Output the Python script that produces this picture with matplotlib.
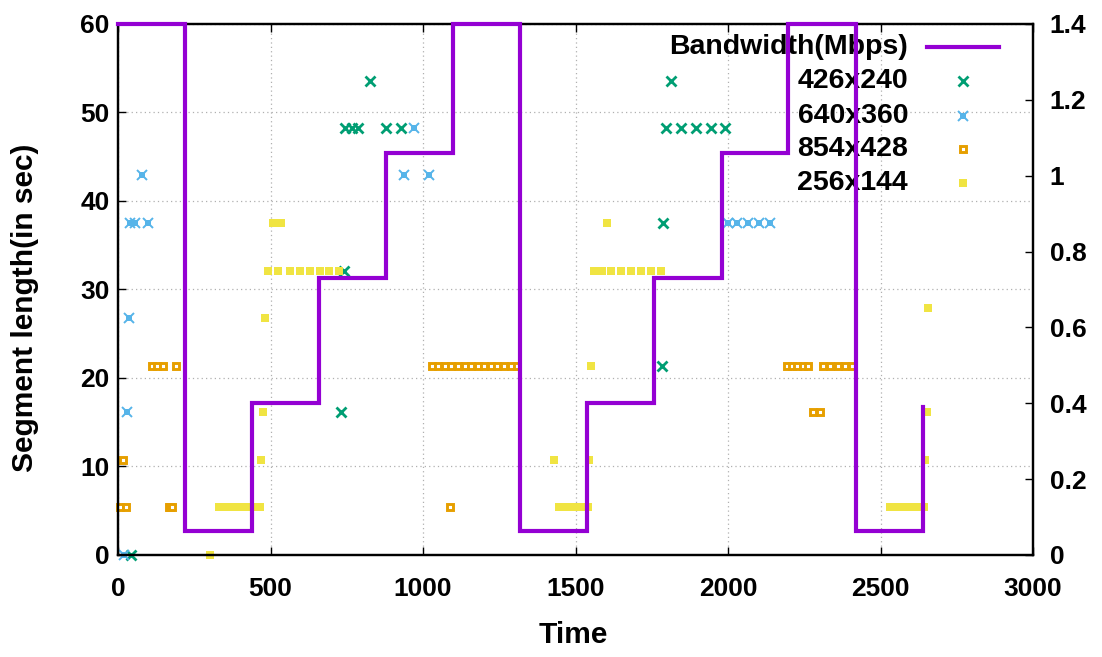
import matplotlib
matplotlib.use("Agg")
import matplotlib.pyplot as plt
from matplotlib.lines import Line2D
from matplotlib.ticker import FuncFormatter

# ---------------- data ----------------
bw_time = [0, 219.7, 438, 659, 878, 1099, 1318, 1539, 1758, 1979, 2197, 2418, 2638]
bw_mbps = [1.4, 0.064, 0.4, 0.73, 1.06, 1.4, 0.064, 0.4, 0.73, 1.06, 1.4, 0.064, 0.39]

r426_t = [41, 730, 741, 744, 766, 788, 826, 879, 928, 1784, 1786, 1796, 1812, 1847, 1895, 1943, 1991]
r426_v = [0, 16.1, 32.1, 48.2, 48.2, 48.2, 53.6, 48.2, 48.2, 21.4, 37.5, 48.2, 53.6, 48.2, 48.2, 48.2, 48.2]

r640_t = [20, 31, 36, 40, 55, 98, 78, 939, 972, 1021, 2001, 2029, 2067, 2102, 2138]
r640_v = [0, 16.1, 26.8, 37.5, 37.5, 37.5, 42.9, 42.9, 48.2, 42.9, 37.5, 37.5, 37.5, 37.5, 37.5]

r854_t = [5, 26, 17, 112, 128, 148, 190, 167, 172, 177, 1089,
          1028, 1050, 1072, 1093, 1115, 1136, 1158, 1180, 1201, 1223, 1244, 1266, 1288, 1309,
          2192, 2210, 2226, 2245, 2263, 2313, 2336, 2359, 2382, 2405, 2280, 2303]
r854_v = [5.4, 5.4, 10.7, 21.4, 21.4, 21.4, 21.4, 5.4, 5.4, 5.4, 5.4,
          21.4, 21.4, 21.4, 21.4, 21.4, 21.4, 21.4, 21.4, 21.4, 21.4, 21.4, 21.4, 21.4, 21.4,
          21.4, 21.4, 21.4, 21.4, 21.4, 21.4, 21.4, 21.4, 21.4, 21.4, 16.1, 16.1]

r256_t = [302, 330, 346, 362, 375, 391, 404, 420, 436, 450, 465, 469, 474, 482,
          493, 524, 565, 597, 630, 662, 693, 725, 509, 534,
          1431, 1445, 1460, 1476, 1492, 1508, 1524, 1540, 1545, 1552, 1602,
          1561, 1586, 1616, 1649, 1681, 1714, 1747, 1779,
          2531, 2548, 2575, 2597, 2620, 2644, 2646, 2651, 2657]
r256_v = [0, 5.4, 5.4, 5.4, 5.4, 5.4, 5.4, 5.4, 5.4, 5.4, 5.4, 10.7, 16.1, 26.8,
          32.1, 32.1, 32.1, 32.1, 32.1, 32.1, 32.1, 32.1, 37.5, 37.5,
          10.7, 5.4, 5.4, 5.4, 5.4, 5.4, 5.4, 5.4, 10.7, 21.4, 37.5,
          32.1, 32.1, 32.1, 32.1, 32.1, 32.1, 32.1, 32.1,
          5.4, 5.4, 5.4, 5.4, 5.4, 5.4, 10.7, 16.1, 27.9]

x_ticks = [0, 500, 1000, 1500, 2000, 2500, 3000]
y_ticks = [0, 10, 20, 30, 40, 50, 60]
y2_ticks = [0, 0.2, 0.4, 0.6, 0.8, 1.0, 1.2, 1.4]

labels = ["Bandwidth(Mbps)", "426x240", "640x360", "854x428", "256x144"]

# ---------------- style ----------------
C_BW = "#9400D3"
C_G = "#009E73"
C_B = "#56B4E9"
C_O = "#E69F00"
C_Y = "#F0E442"

s_tick, s_leg, s_xlab = 19, 20.5, 21.5

plt.rcParams["font.family"] = ["Liberation Sans", "DejaVu Sans"]
plt.rcParams["font.weight"] = "bold"

fig = plt.figure(figsize=(11.02, 6.57), dpi=100)
ax = fig.add_axes([0.1071, 0.1553, 0.8303, 0.8082])
ax2 = ax.twinx()

ax.set_xlim(0, 3000)
ax.set_ylim(0, 60)
ax2.set_ylim(0, 1.4)
ax.set_xticks(x_ticks)
ax.set_yticks(y_ticks)
ax2.set_yticks(y2_ticks)
ax2.yaxis.set_major_formatter(FuncFormatter(lambda v, p: "%g" % round(v, 2)))

ax.grid(True, color="#b0b0b0", linestyle=(0, (1, 2.5)), linewidth=0.9)
ax.set_axisbelow(True)

ax.tick_params(axis="x", direction="in", length=6, width=1, top=True, pad=16)
ax.tick_params(axis="y", direction="in", length=6, width=1, pad=6)
ax2.tick_params(axis="y", direction="in", length=6, width=1, pad=12)
for t in ax.get_xticklabels() + ax.get_yticklabels() + ax2.get_yticklabels():
    t.set_fontsize(s_tick)
    t.set_fontweight("bold")
for sp in list(ax.spines.values()) + list(ax2.spines.values()):
    sp.set_linewidth(1.6)

# marker styles
st_g = dict(linestyle="none", marker="x", ms=6.5, mew=2.0, color=C_G)
st_b1 = dict(linestyle="none", marker="s", ms=5.0, mew=0, color=C_B)
st_b2 = dict(linestyle="none", marker="x", ms=7.0, mew=1.4, color=C_B)
st_o = dict(linestyle="none", marker="s", ms=4.6, mew=2.1,
            markeredgecolor=C_O, markerfacecolor="white")
st_y = dict(linestyle="none", marker="s", ms=5.2, mew=0, color=C_Y)

# scatter series
ax.plot(r426_t, r426_v, clip_on=False, **st_g)
ax.plot(r640_t, r640_v, clip_on=False, **st_b1)
ax.plot(r640_t, r640_v, clip_on=False, **st_b2)
ax.plot(r854_t, r854_v, clip_on=False, **st_o)
ax.plot(r256_t, r256_v, clip_on=False, **st_y)

# bandwidth line
ax2.plot(bw_time, bw_mbps, drawstyle="steps-post", color=C_BW, linewidth=3.0,
         zorder=4, clip_on=False, solid_joinstyle="miter")

ax.set_xlabel("Time", fontsize=s_xlab, fontweight="bold")
ax.set_ylabel("Segment length(in sec)", fontsize=21.5, fontweight="bold")
ax.xaxis.set_label_coords(0.498, -0.124)
ax.yaxis.set_label_coords(-0.086, 0.465)

# legend (gnuplot-style: right-aligned text, sample at right)
tx = 0.8634
ys = [0.9567, 0.8927, 0.8273, 0.7645, 0.6999]
for lab, yy in zip(labels, ys):
    ax2.text(tx, yy, lab, transform=ax2.transAxes, ha="right", va="center",
             fontsize=s_leg, fontweight="bold", zorder=3)
ax2.add_line(Line2D([0.884, 0.963], [ys[0], ys[0]], transform=ax2.transAxes,
                    color=C_BW, linewidth=3.0))
mx = 0.9235
ax2.add_line(Line2D([mx], [ys[1]], transform=ax2.transAxes, **st_g))
ax2.add_line(Line2D([mx], [ys[2]], transform=ax2.transAxes, **st_b1))
ax2.add_line(Line2D([mx], [ys[2]], transform=ax2.transAxes, **st_b2))
ax2.add_line(Line2D([mx], [ys[3]], transform=ax2.transAxes, **st_o))
ax2.add_line(Line2D([mx], [ys[4]], transform=ax2.transAxes, **st_y))

fig.savefig("out.png", dpi=100)
